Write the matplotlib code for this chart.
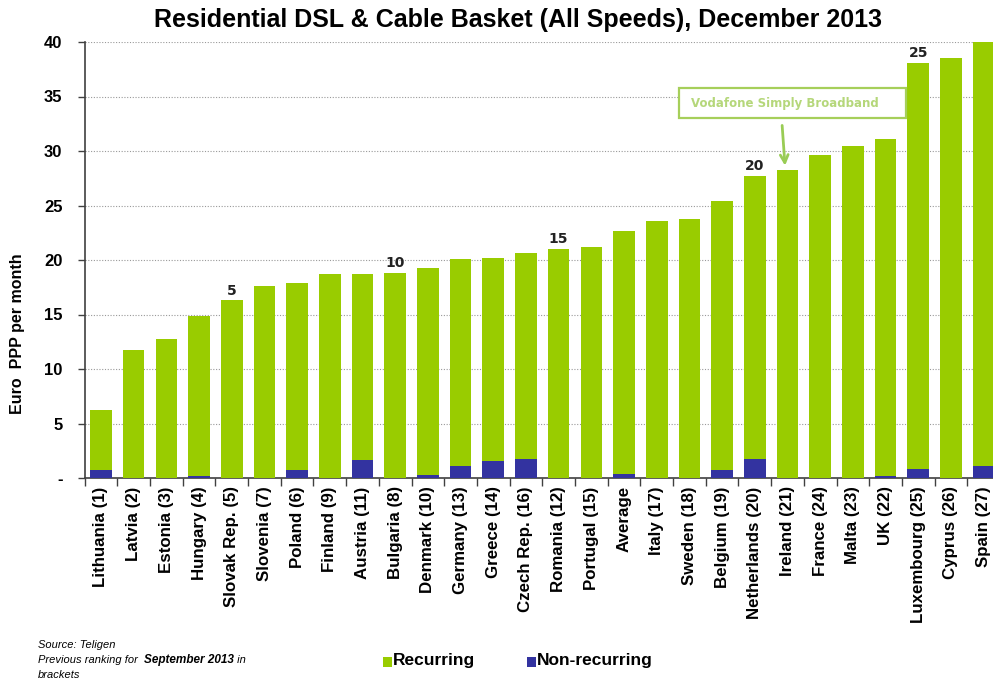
import matplotlib
matplotlib.use("Agg")
import matplotlib.pyplot as plt
from matplotlib.patches import Rectangle
import numpy as np

countries = ["Lithuania (1)", "Latvia (2)", "Estonia (3)", "Hungary (4)", "Slovak Rep. (5)",
             "Slovenia (7)", "Poland (6)", "Finland (9)", "Austria (11)", "Bulgaria (8)",
             "Denmark (10)", "Germany (13)", "Greece (14)", "Czech Rep. (16)", "Romania (12)",
             "Portugal (15)", "Average", "Italy (17)", "Sweden (18)", "Belgium (19)",
             "Netherlands (20)", "Ireland (21)", "France (24)", "Malta (23)", "UK (22)",
             "Luxembourg (25)", "Cyprus (26)", "Spain (27)"]

non_recurring = [0.75, 0.0, 0.0, 0.2, 0.0, 0.0, 0.75, 0.0, 1.65, 0.0,
                 0.25, 1.13, 1.55, 1.7, 0.0, 0.0, 0.4, 0.0, 0.0, 0.73,
                 1.7, 0.0, 0.0, 0.0, 0.15, 0.8, 0.0, 1.1]
totals = [6.25, 11.7, 12.75, 14.9, 16.3, 17.6, 17.85, 18.7, 18.7, 18.8,
          19.3, 20.1, 20.2, 20.6, 21.0, 21.2, 22.7, 23.6, 23.8, 25.4,
          27.7, 28.3, 29.6, 30.5, 31.1, 38.1, 38.5, 40.0]
recurring = [t - n for t, n in zip(totals, non_recurring)]

rank_marks = {4: "5", 9: "10", 14: "15", 20: "20", 25: "25"}
yticks = [0, 5, 10, 15, 20, 25, 30, 35, 40]
ytick_labels = ["-", "5", "10", "15", "20", "25", "30", "35", "40"]

GREEN = "#99CC00"
BLUE = "#3333A0"
BOLD = ["Liberation Sans", "DejaVu Sans"]

W, H = 993, 679
fig = plt.figure(figsize=(W / 100, H / 100), dpi=100)
fig.patch.set_facecolor("white")

left_px, right_px, top_px, bot_px = 84.6, 1000.0, 42.0, 478.0
ax = fig.add_axes([left_px / W, 1 - bot_px / H, (right_px - left_px) / W, (bot_px - top_px) / H])
ax.set_facecolor("white")

x = np.arange(len(countries))
ax.bar(x, non_recurring, width=0.66, color=BLUE, zorder=3)
ax.bar(x, recurring, width=0.66, bottom=non_recurring, color=GREEN, zorder=3)

ax.set_xlim(-0.5, len(countries) - 0.5)
ax.set_ylim(0, 40)
ax.set_yticks(yticks)
ax.set_yticklabels(ytick_labels, fontsize=12, fontweight="bold", family=BOLD)
ax.yaxis.grid(True, linestyle=(0, (1, 1.5)), color="#999999", linewidth=0.8, zorder=0)
ax.set_axisbelow(True)

ax.set_xticks(x)
ax.set_xticklabels(countries, rotation=90, fontsize=12.2, fontweight="bold", family=BOLD)
ax.tick_params(axis="x", which="major", length=0, pad=6)
ax.set_xticks(np.arange(-0.5, len(countries), 1.0), minor=True)
ax.tick_params(axis="x", which="minor", length=6, width=1, color="#404040", direction="out")
ax.tick_params(axis="y", length=5, width=1, color="#404040", pad=11)

for s in ["top", "right"]:
    ax.spines[s].set_visible(False)
for s in ["left", "bottom"]:
    ax.spines[s].set_color("#404040")
    ax.spines[s].set_linewidth(1.2)

for i, lbl in rank_marks.items():
    ax.text(x[i], totals[i] + 0.25, lbl, ha="center", va="bottom",
            fontsize=10, fontweight="bold", family="DejaVu Sans", color="#222222", zorder=4)

# Callout for the Irish offer
ax.add_patch(Rectangle((17.68, 33.0), 24.64 - 17.68, 2.8, fill=True, facecolor="white",
                       edgecolor="#A6CF5A", linewidth=1.6, zorder=5, clip_on=False))
ax.text(18.05, 34.4, "Vodafone Simply Broadband", ha="left", va="center",
        fontsize=8.5, fontweight="bold", color="#B5D77A", family="DejaVu Sans", zorder=6)
ax.annotate("", xy=(20.93, 28.4), xytext=(20.83, 32.6),
            arrowprops=dict(arrowstyle="->", color="#99CC55", lw=2, mutation_scale=14), zorder=6)

fig.text(518 / W, 1 - 20 / H, "Residential DSL & Cable Basket (All Speeds), December 2013",
         ha="center", va="center", fontsize=18, fontweight="bold", family=BOLD)
fig.text(18 / W, 1 - 334 / H, "Euro  PPP per month", rotation=90, ha="center", va="center",
         fontsize=11.5, fontweight="bold", family=BOLD)

# Source notes, laid out piece by piece on one line
renderer = fig.canvas.get_renderer()
note_kw = dict(fontsize=8, style="italic", family=BOLD, va="center")
fig.text(38 / W, 1 - 645 / H, "Source: Teligen", **note_kw)
xpos = 38.0
for piece, weight, size in [("Previous ranking for  ", "normal", 8),
                            ("September 2013", "bold", 8.5),
                            (" in", "normal", 8)]:
    t = fig.text(xpos / W, 1 - 660 / H, piece, fontsize=size, fontweight=weight,
                 style="italic", family=BOLD, va="center")
    xpos += t.get_window_extent(renderer).width
fig.text(38 / W, 1 - 675 / H, "brackets", **note_kw)

# Legend
for px, col, lbl in [(383, GREEN, "Recurring"), (527, BLUE, "Non-recurring")]:
    fig.add_artist(Rectangle((px / W, 1 - 667 / H), 9 / W, 10 / H, transform=fig.transFigure,
                             facecolor=col, edgecolor="none"))
    fig.text((px + 10) / W, 1 - 661 / H, lbl, fontsize=12.5, fontweight="bold",
             family=BOLD, va="center", ha="left")

fig.savefig("out.png", dpi=100)
